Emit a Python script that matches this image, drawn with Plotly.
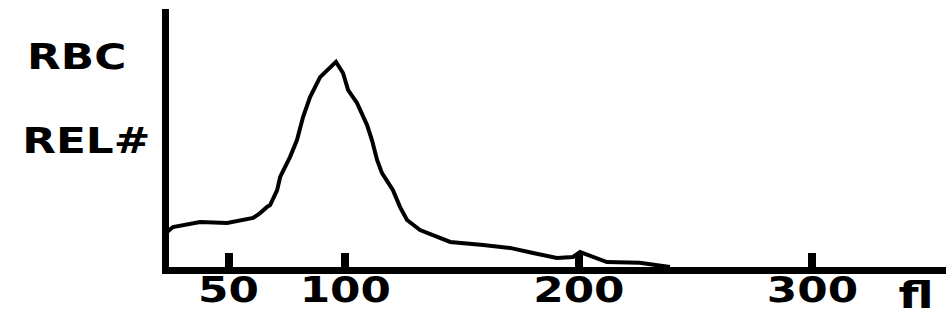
import plotly.graph_objects as go

# RBC volume histogram (fl)
volume_fl = [23.7, 26.2, 37.8, 49.4, 60.5, 63.5, 66.5, 67.8, 70.8, 72.1, 76.3, 79.3,
             81.9, 84.9, 89.2, 92.2, 96.0, 99.0, 101.2, 105.0, 109.3, 111.4, 113.6,
             115.7, 120.4, 123.4, 126.4, 132.0, 139.3, 144.9, 159.0, 170.5, 180.4,
             190.6, 197.5, 200.5, 212.0, 226.1, 239.0]
rel_count = [13.6, 15.5, 17.4, 17.1, 19.0, 20.9, 23.3, 24.0, 29.8, 34.9, 42.6, 49.2,
             58.1, 65.9, 73.6, 76.4, 79.5, 75.2, 68.6, 63.6, 55.0, 49.2, 41.5,
             36.4, 29.8, 23.3, 18.2, 14.3, 11.6, 9.7, 8.5, 7.4, 5.4,
             3.5, 3.9, 5.8, 1.9, 1.6, 0.0]
tick_vals = [50, 100, 200, 300]
tick_text = ["50", "100", "200", "300"]
unit_label = "fl"
y_labels = ["RBC", "REL#"]

FONT = dict(family="DejaVu Sans", size=35, color="black", weight="bold")

fig = go.Figure()
fig.add_trace(go.Scatter(x=volume_fl, y=rel_count, mode="lines",
                         line=dict(color="black", width=4), hoverinfo="skip"))

fig.update_layout(
    width=948, height=317,
    margin=dict(l=169, r=2, t=9, b=50, autoexpand=False),
    paper_bgcolor="white", plot_bgcolor="white",
    showlegend=False,
    xaxis=dict(range=[24.5, 357.2], showline=True, linecolor="black", linewidth=7,
               ticks="inside", ticklen=14, tickwidth=8, tickcolor="black",
               tickvals=tick_vals, ticktext=tick_text, tickfont=FONT,
               ticklabelstandoff=-14, automargin=False,
               showgrid=False, zeroline=False, fixedrange=True),
    yaxis=dict(range=[0, 100], showline=True, linecolor="black", linewidth=7,
               ticks="", showticklabels=False, showgrid=False, zeroline=False,
               automargin=False, fixedrange=True),
)

fig.add_annotation(text=unit_label, xref="x", yref="paper", x=344.3, y=0,
                   xanchor="center", yanchor="top", yshift=-4, showarrow=False,
                   font=dict(FONT, size=38))
# label centres in paper coords (RBC centre ~x=76 px, REL# centre ~x=86 px)
fig.add_annotation(text=y_labels[0], xref="paper", yref="paper", x=(76.5 - 169) / 777,
                   y=0.814, xanchor="center", yanchor="middle", showarrow=False, font=FONT)
fig.add_annotation(text=y_labels[1], xref="paper", yref="paper", x=(86.5 - 169) / 777,
                   y=0.488, xanchor="center", yanchor="middle", showarrow=False, font=FONT)

post = """
document.body.style.margin='0';document.body.style.padding='0';
var gd = document.getElementById('{plot_id}');
gd.querySelectorAll('text').forEach(function(t){
  var w = t.getComputedTextLength();
  if (w > 0) { t.setAttribute('textLength', w * 1.25); t.setAttribute('lengthAdjust', 'spacingAndGlyphs'); }
});
"""
fig.write_html("out.html", config={"displayModeBar": False}, post_script=post)
